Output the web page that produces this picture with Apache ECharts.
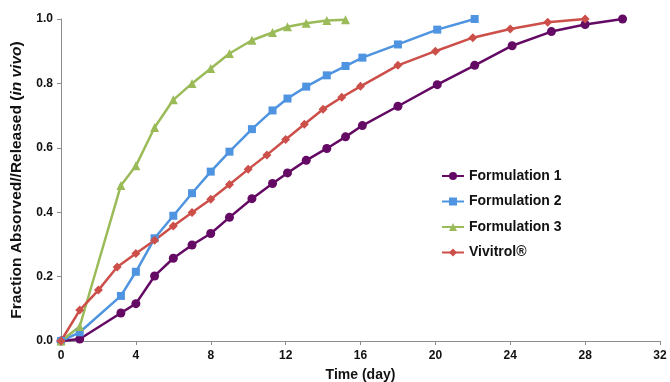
<!DOCTYPE html>
<html>
<head>
<meta charset="utf-8">
<script src="https://cdn.jsdelivr.net/npm/echarts@6/dist/echarts.min.js"></script>
<style>
  html, body { margin: 0; padding: 0; background: #fff; }
  #chart { width: 670px; height: 382px; }
</style>
</head>
<body>
<div id="chart"></div>
<script>
// days and fractions
const f1Days = [0, 1, 3.2, 4, 5, 6, 7, 8, 9, 10.2, 11.3, 12.1, 13.1, 14.2, 15.2, 16.1, 18, 20.1, 22.1, 24.1, 26.2, 28, 30];
const f1Vals = [0, 0.006, 0.087, 0.116, 0.202, 0.257, 0.298, 0.334, 0.384, 0.442, 0.489, 0.522, 0.561, 0.598, 0.634, 0.669, 0.729, 0.796, 0.856, 0.917, 0.961, 0.983, 1.0];

const f2Days = [0, 1, 3.2, 4, 5, 6, 7, 8, 9, 10.2, 11.3, 12.1, 13.1, 14.2, 15.2, 16.1, 18, 20.1, 22.1];
const f2Vals = [0, 0.027, 0.14, 0.215, 0.319, 0.389, 0.459, 0.526, 0.588, 0.658, 0.716, 0.753, 0.79, 0.825, 0.854, 0.88, 0.921, 0.967, 1.0];

const f3Days = [0, 1, 3.2, 4, 5, 6, 7, 8, 9, 10.2, 11.3, 12.1, 13.1, 14.2, 15.2];
const f3Vals = [0, 0.045, 0.483, 0.544, 0.663, 0.749, 0.8, 0.846, 0.893, 0.934, 0.958, 0.976, 0.987, 0.995, 0.998];

const vivDays = [0, 1, 2, 3, 4, 5, 6, 7, 8, 9, 10, 11, 12, 13, 14, 15, 16, 18, 20, 22, 24, 26, 28];
const vivVals = [0, 0.096, 0.158, 0.23, 0.272, 0.313, 0.357, 0.399, 0.44, 0.486, 0.533, 0.578, 0.626, 0.673, 0.72, 0.757, 0.791, 0.856, 0.9, 0.942, 0.969, 0.99, 1.0];

const seriesNames = ['Formulation 1', 'Formulation 2', 'Formulation 3', 'Vivitrol®'];
const xTicks = [0, 32, 4];   // min, max, step
const yTicks = [0, 1, 0.2];

function pairs(days, vals) {
    return days.map((d, i) => [d, vals[i]]);
}

const chart = echarts.init(document.getElementById('chart'), null, { renderer: 'canvas' });
const font = 'Liberation Sans, Arial, sans-serif';

const makeSeries = (name, data, color, symbol, size) => ({
    name: name,
    type: 'line',
    data: data,
    symbol: symbol,
    symbolSize: size,
    showSymbol: true,
    lineStyle: { color: color, width: 2.5 },
    itemStyle: { color: color },
    emphasis: { disabled: true },
    z: 2
});

chart.setOption({
    animation: false,
    textStyle: { fontFamily: font },
    grid: { left: 61, right: 10, top: 19, bottom: 41, containLabel: false, outerBoundsMode: 'none' },
    legend: {
        orient: 'vertical',
        left: 441,
        top: 169,
        padding: 0,
        itemGap: 11.5,
        itemWidth: 22,
        itemHeight: 10,
        data: seriesNames,
        textStyle: { fontFamily: font, fontSize: 14, fontWeight: 'bold', color: '#111' }
    },
    xAxis: {
        type: 'value',
        min: xTicks[0],
        max: xTicks[1],
        interval: xTicks[2],
        name: 'Time (day)',
        nameLocation: 'middle',
        nameGap: 27,
        nameTextStyle: { fontFamily: font, fontSize: 14, fontWeight: 'bold', color: '#111' },
        axisLine: { lineStyle: { color: '#8c8c8c', width: 1 } },
        axisTick: { show: true, length: 4, lineStyle: { color: '#8c8c8c' } },
        axisLabel: { fontFamily: font, fontSize: 12, fontWeight: 'bold', color: '#111', margin: 9 },
        splitLine: { show: false }
    },
    yAxis: {
        type: 'value',
        min: yTicks[0],
        max: yTicks[1],
        interval: yTicks[2],
        name: '{n|Fraction Absorved//Released (}{i|in vivo}{n|)}',
        nameLocation: 'middle',
        nameGap: 36,
        nameTextStyle: {
            rich: {
                n: { fontFamily: font, fontSize: 15.5, fontWeight: 'bold', color: '#111' },
                i: { fontFamily: font, fontSize: 15.5, fontWeight: 'bold', fontStyle: 'italic', color: '#111' }
            }
        },
        axisLine: { show: true, lineStyle: { color: '#8c8c8c', width: 1 } },
        axisTick: { show: true, length: 4, lineStyle: { color: '#8c8c8c' } },
        axisLabel: {
            fontFamily: font, fontSize: 12, fontWeight: 'bold', color: '#111', margin: 8,
            formatter: v => v.toFixed(1)
        },
        splitLine: { show: false }
    },
    series: [
        makeSeries(seriesNames[0], pairs(f1Days, f1Vals), '#640a64', 'circle', 9),
        makeSeries(seriesNames[1], pairs(f2Days, f2Vals), '#4f94e0', 'rect', 8),
        makeSeries(seriesNames[2], pairs(f3Days, f3Vals), '#9bbb59', 'triangle', 9),
        makeSeries(seriesNames[3], pairs(vivDays, vivVals), '#cc4f4a', 'diamond', 9)
    ]
});
</script>
</body>
</html>
